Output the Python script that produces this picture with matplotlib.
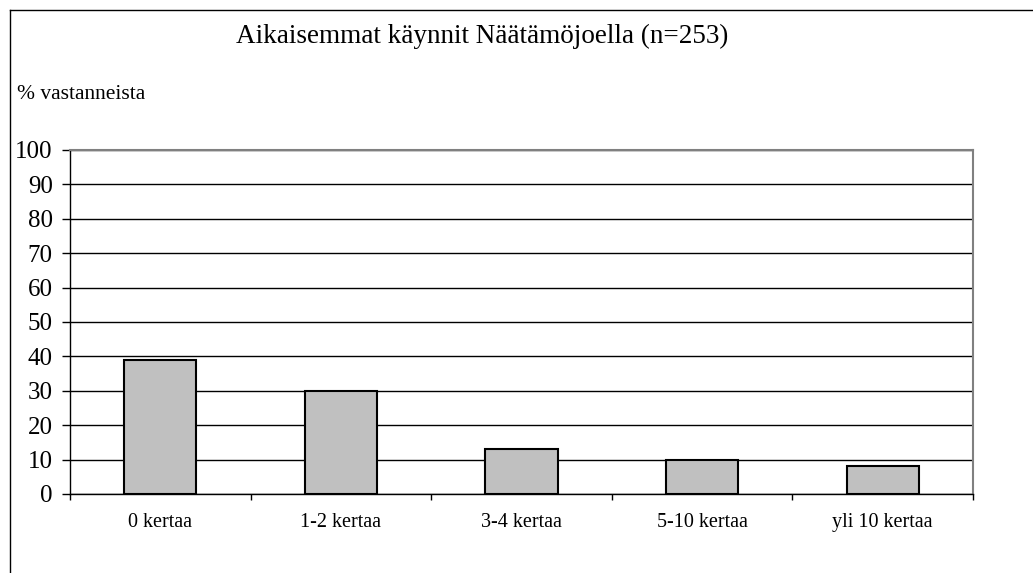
import matplotlib
matplotlib.use("Agg")
import matplotlib.pyplot as plt
from matplotlib.lines import Line2D
import numpy as np

plt.rcParams['font.family'] = ['Liberation Serif', 'DejaVu Serif']

# data
kategoriat = ["0 kertaa", "1-2 kertaa", "3-4 kertaa", "5-10 kertaa", "yli 10 kertaa"]
osuudet = [39, 30, 13, 10, 8]
y_ticks = [0, 10, 20, 30, 40, 50, 60, 70, 80, 90, 100]

W, H = 1033, 573
fig = plt.figure(figsize=(W / 100, H / 100), dpi=100)

# outer frame (only left and top visible in the crop)
fig.add_artist(Line2D([10 / W, 10 / W], [0, 1 - 10 / H], color="black", lw=1, transform=fig.transFigure))
fig.add_artist(Line2D([10 / W, 1], [1 - 10 / H, 1 - 10 / H], color="black", lw=1, transform=fig.transFigure))

ax = fig.add_axes([70 / W, 79 / H, 903 / W, 344 / H])

x = np.arange(len(kategoriat))
ax.bar(x, osuudet, width=0.4, color="#c0c0c0", edgecolor="black", linewidth=1.5, zorder=3)

ax.set_xlim(-0.5, len(kategoriat) - 0.5)
ax.set_ylim(0, 100)
ax.set_yticks(y_ticks)
ax.yaxis.grid(True, color="black", lw=1, zorder=0)
ax.set_axisbelow(True)

# labels at centres, tick marks at category boundaries
ax.set_xticks(x)
ax.set_xticklabels(kategoriat, fontsize=14.5)
ax.set_xticks(np.arange(-0.5, len(kategoriat)), minor=True)
ax.tick_params(axis="x", which="major", length=0, pad=14)
ax.tick_params(axis="x", which="minor", length=4.3, width=1, direction="out")
ax.tick_params(axis="y", length=5.5, width=1, direction="out", labelsize=18, pad=7)

for s in ["top", "right"]:
    ax.spines[s].set_color("#808080")
    ax.spines[s].set_linewidth(1.5)
for s in ["left", "bottom"]:
    ax.spines[s].set_color("black")
    ax.spines[s].set_linewidth(1)

fig.text(482 / W, 1 - 36 / H, "Aikaisemmat käynnit Näätämöjoella (n=253)",
         ha="center", va="center", fontsize=19.5)
fig.text(17 / W, 1 - 99 / H, "% vastanneista", ha="left", va="baseline", fontsize=15.5)

fig.savefig("out.png", dpi=100)
